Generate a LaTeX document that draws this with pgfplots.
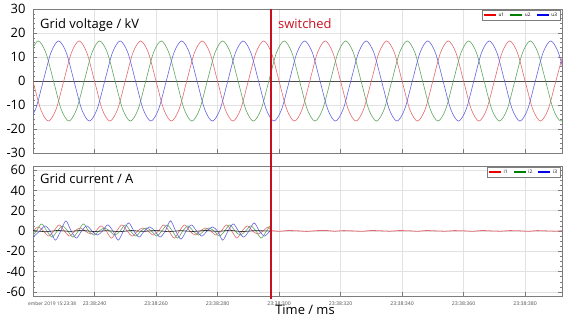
\documentclass[border=0pt]{standalone}
\usepackage{pgfplots}
\pgfplotsset{compat=1.18}
\usepackage{fontspec}
\setmainfont{Open Sans}
\definecolor{ured}{RGB}{228,105,110}
\definecolor{ugreen}{RGB}{95,165,95}
\definecolor{ublue}{RGB}{100,100,225}
\definecolor{lred}{RGB}{235,0,0}
\definecolor{lgreen}{RGB}{0,128,0}
\definecolor{lblue}{RGB}{0,0,235}
\definecolor{swred}{RGB}{200,16,32}
\definecolor{axgray}{RGB}{125,125,125}
\definecolor{gridgray}{RGB}{226,226,226}
\pgfplotsset{
 myaxis/.style={
  scale only axis, width=529bp, anchor=south west,
  xmin=220, xmax=392,
  xtick={220,240,...,380},
  axis line style={axgray, line width=0.8pt},
  grid=major, major grid style={gridgray, line width=0.5pt},
  tick align=inside,
  xtick pos=lower, ytick pos=both,
  major tick length=4bp, minor tick length=2bp,
  every tick/.style={axgray, line width=0.5pt},
  /pgf/number format/assume math mode=true,
  yticklabel style={font=\fontsize{13}{13}\selectfont, black, xshift=-4bp},
  xticklabel style={font=\fontsize{5.2}{6}\selectfont, text=black!70, inner sep=0pt, anchor=north, yshift=-5.5bp},
  legend style={at={(rel axis cs:0.996,0.993)}, anchor=north east, draw=axgray, line width=0.4pt,
     font=\fontsize{4.8}{5}\selectfont, inner sep=0.6pt, legend columns=3,
     /tikz/every even column/.append style={column sep=3bp}},
  legend image code/.code={\draw[line width=1.8bp,##1] (0bp,0bp) -- (12bp,0bp);},
 }
}
\begin{document}
\begin{tikzpicture}[x=1bp,y=1bp]
\path[use as bounding box] (0,0) rectangle (571,316);
% ---------------- voltage ----------------
\begin{axis}[myaxis, at={(33bp,163bp)}, height=144bp,
  ymin=-30, ymax=30, ytick={-30,-20,...,30}, minor y tick num=4, xticklabels={}]
\addlegendimage{lred}\addlegendentry{u1}
\addlegendimage{lgreen}\addlegendentry{u2}
\addlegendimage{lblue}\addlegendentry{u3}
\addplot[forget plot, gray!60!black, line width=0.7pt] coordinates {(220,0)(392,0)};
\addplot[forget plot, ured, line width=0.6pt, smooth] coordinates {
(220,0)(222.5,-11.81)(225,-16.7)(227.5,-11.81)(230,0)(232.5,11.81)(235,16.7)(237.5,11.81)
(240,0)(242.5,-11.81)(245,-16.7)(247.5,-11.81)(250,0)(252.5,11.81)(255,16.7)(257.5,11.81)
(260,0)(262.5,-11.81)(265,-16.7)(267.5,-11.81)(270,0)(272.5,11.81)(275,16.7)(277.5,11.81)
(280,0)(282.5,-11.81)(285,-16.7)(287.5,-11.81)(290,0)(292.5,11.81)(295,16.7)(297.5,11.81)
(300,0)(302.5,-11.81)(305,-16.7)(307.5,-11.81)(310,0)(312.5,11.81)(315,16.7)(317.5,11.81)
(320,0)(322.5,-11.81)(325,-16.7)(327.5,-11.81)(330,0)(332.5,11.81)(335,16.7)(337.5,11.81)
(340,0)(342.5,-11.81)(345,-16.7)(347.5,-11.81)(350,0)(352.5,11.81)(355,16.7)(357.5,11.81)
(360,0)(362.5,-11.81)(365,-16.7)(367.5,-11.81)(370,0)(372.5,11.81)(375,16.7)(377.5,11.81)
(380,0)(382.5,-11.81)(385,-16.7)(387.5,-11.81)(390,0)(392.5,11.81)};
\addplot[forget plot, ugreen, line width=0.6pt, smooth] coordinates {
(219.17,11.81)(221.67,16.7)(224.17,11.81)(226.67,0)(229.17,-11.81)(231.67,-16.7)(234.17,-11.81)(236.67,0)
(239.17,11.81)(241.67,16.7)(244.17,11.81)(246.67,0)(249.17,-11.81)(251.67,-16.7)(254.17,-11.81)(256.67,0)
(259.17,11.81)(261.67,16.7)(264.17,11.81)(266.67,0)(269.17,-11.81)(271.67,-16.7)(274.17,-11.81)(276.67,0)
(279.17,11.81)(281.67,16.7)(284.17,11.81)(286.67,0)(289.17,-11.81)(291.67,-16.7)(294.17,-11.81)(296.67,0)
(299.17,11.81)(301.67,16.7)(304.17,11.81)(306.67,0)(309.17,-11.81)(311.67,-16.7)(314.17,-11.81)(316.67,0)
(319.17,11.81)(321.67,16.7)(324.17,11.81)(326.67,0)(329.17,-11.81)(331.67,-16.7)(334.17,-11.81)(336.67,0)
(339.17,11.81)(341.67,16.7)(344.17,11.81)(346.67,0)(349.17,-11.81)(351.67,-16.7)(354.17,-11.81)(356.67,0)
(359.17,11.81)(361.67,16.7)(364.17,11.81)(366.67,0)(369.17,-11.81)(371.67,-16.7)(374.17,-11.81)(376.67,0)
(379.17,11.81)(381.67,16.7)(384.17,11.81)(386.67,0)(389.17,-11.81)(391.67,-16.7)(394.17,-11.81)};
\addplot[forget plot, ublue, line width=0.6pt, smooth] coordinates {
(218.33,-16.7)(220.83,-11.81)(223.33,0)(225.83,11.81)(228.33,16.7)(230.83,11.81)(233.33,0)(235.83,-11.81)
(238.33,-16.7)(240.83,-11.81)(243.33,0)(245.83,11.81)(248.33,16.7)(250.83,11.81)(253.33,0)(255.83,-11.81)
(258.33,-16.7)(260.83,-11.81)(263.33,0)(265.83,11.81)(268.33,16.7)(270.83,11.81)(273.33,0)(275.83,-11.81)
(278.33,-16.7)(280.83,-11.81)(283.33,0)(285.83,11.81)(288.33,16.7)(290.83,11.81)(293.33,0)(295.83,-11.81)
(298.33,-16.7)(300.83,-11.81)(303.33,0)(305.83,11.81)(308.33,16.7)(310.83,11.81)(313.33,0)(315.83,-11.81)
(318.33,-16.7)(320.83,-11.81)(323.33,0)(325.83,11.81)(328.33,16.7)(330.83,11.81)(333.33,0)(335.83,-11.81)
(338.33,-16.7)(340.83,-11.81)(343.33,0)(345.83,11.81)(348.33,16.7)(350.83,11.81)(353.33,0)(355.83,-11.81)
(358.33,-16.7)(360.83,-11.81)(363.33,0)(365.83,11.81)(368.33,16.7)(370.83,11.81)(373.33,0)(375.83,-11.81)
(378.33,-16.7)(380.83,-11.81)(383.33,0)(385.83,11.81)(388.33,16.7)(390.83,11.81)(393.33,0)};
\coordinate (swt) at (axis cs:297.3,30);
\end{axis}
% ---------------- current ----------------
\begin{axis}[myaxis, at={(33bp,20bp)}, height=130bp,
  ymin=-64, ymax=64, ytick={-60,-40,...,60}, minor y tick num=3,
  xticklabels={,23:38:240,23:38:260,23:38:280,23:38:300,23:38:320,23:38:340,23:38:360,23:38:380}]
\addlegendimage{lred}\addlegendentry{i1}
\addlegendimage{lgreen}\addlegendentry{i2}
\addlegendimage{lblue}\addlegendentry{i3}
\addplot[forget plot, ured, line width=0.6pt, smooth] coordinates {
(220.0,0)(221.7,4)(223.4,0)(225.1,-5)(226.8,0)(228.5,6)(230.2,0)(231.9,-5)(233.6,0)(235.3,3)
(237.0,0)(238.7,-3)(240.4,0)(242.1,5)(243.8,0)(245.5,-7)(247.2,0)(248.9,6)(250.6,0)(252.3,-5)
(254.0,0)(255.7,3)(257.4,0)(259.1,-4)(260.8,0)(262.5,6)(264.2,0)(265.9,-7)(267.6,0)(269.3,6)
(271.0,0)(272.7,-4)(274.4,0)(276.1,3)(277.8,0)(279.5,-4)(281.2,0)(282.9,6)(284.6,0)(286.3,-7)
(288.0,0)(289.7,5)(291.4,0)(293.1,-3)(294.8,0)(296.5,4)(297.3,0)};
\addplot[forget plot, ugreen, line width=0.6pt, smooth] coordinates {
(220.0,-4)(221.1,0)(222.8,7)(224.5,0)(226.2,-6)(227.9,0)(229.6,5)(231.3,0)(233.0,-6)(234.7,0)
(236.4,7)(238.1,0)(239.8,-4)(241.5,0)(243.2,3)(244.9,0)(246.6,-4)(248.3,0)(250.0,6)(251.7,0)
(253.4,-5)(255.1,0)(256.8,3)(258.5,0)(260.2,-5)(261.9,0)(263.6,6)(265.3,0)(267.0,-7)(268.7,0)
(270.4,5)(272.1,0)(273.8,-4)(275.5,0)(277.2,3)(278.9,0)(280.6,-5)(282.3,0)(284.0,6)(285.7,0)
(287.4,-4)(289.1,0)(290.8,5)(292.5,0)(294.2,-7)(295.9,0)(297.3,6)};
\addplot[forget plot, ublue, line width=0.6pt, smooth] coordinates {
(220.0,-6)(222.2,0)(223.9,5)(225.6,0)(227.3,-9)(229.0,0)(230.7,10)(232.4,0)(234.1,-7)(235.8,0)
(237.5,5)(239.2,0)(240.9,-4)(242.6,0)(244.3,6)(246.0,0)(247.7,-9)(249.4,0)(251.1,8)(252.8,0)
(254.5,-6)(256.2,0)(257.9,4)(259.6,0)(261.3,-6)(263.0,0)(264.7,10)(266.4,0)(268.1,-8)(269.8,0)
(271.5,6)(273.2,0)(274.9,-5)(276.6,0)(278.3,4)(280.0,0)(281.7,-9)(283.4,0)(285.1,7)(286.8,0)
(288.5,-6)(290.2,0)(291.9,8)(293.6,0)(295.3,-5)(297.0,0)};
\addplot[forget plot, black!85, line width=0.6pt] coordinates {
(220,0.5)(224,-0.8)(228,0.6)(232,-0.4)(236,0.7)(240,-0.6)(244,0.4)(248,-0.7)(252,0.5)(256,-0.4)
(260,0.6)(264,-0.7)(268,0.4)(272,-0.5)(276,0.6)(280,-0.4)(284,0.7)(288,-0.6)(292,0.4)(297.3,0)};
\addplot[forget plot, ured, line width=0.8pt] coordinates {
(297.3,0.4)(300,-0.3)(303,0.5)(306,0.2)(309,-0.4)(312,0.3)(315,0.6)(318,-0.2)(321,0.4)(324,0.1)
(327,-0.3)(330,0.5)(333,0.2)(336,-0.2)(339,0.4)(342,0.3)(345,-0.3)(348,0.5)(351,0.1)(354,-0.2)
(357,0.4)(360,0.2)(363,-0.3)(366,0.5)(369,0.1)(372,-0.2)(375,0.4)(378,0.2)(381,-0.3)(384,0.4)
(387,0.1)(390,-0.2)(392,0.3)};
\coordinate (swb) at (axis cs:297.3,-64);
\end{axis}
\draw[swred, line width=2.2bp] (swt) -- ([yshift=-3bp]swb);
\node[anchor=base west, font=\fontsize{13}{13}\selectfont, inner sep=0pt] at (40,288) {Grid voltage / kV};
\node[anchor=base west, font=\fontsize{13}{13}\selectfont, inner sep=0pt, text=swred] at (278,288) {switched};
\node[anchor=base west, font=\fontsize{13}{13}\selectfont, inner sep=0pt] at (40,133) {Grid current / A};
\node[anchor=north west, font=\fontsize{4.9}{6}\selectfont, inner sep=0pt, text=black!70] at (28,14.5) {ember 2019 15:23:38};
\node[anchor=base, font=\fontsize{13}{13}\selectfont, inner sep=0pt] at (305,2) {Time / ms};
\end{tikzpicture}
\end{document}
